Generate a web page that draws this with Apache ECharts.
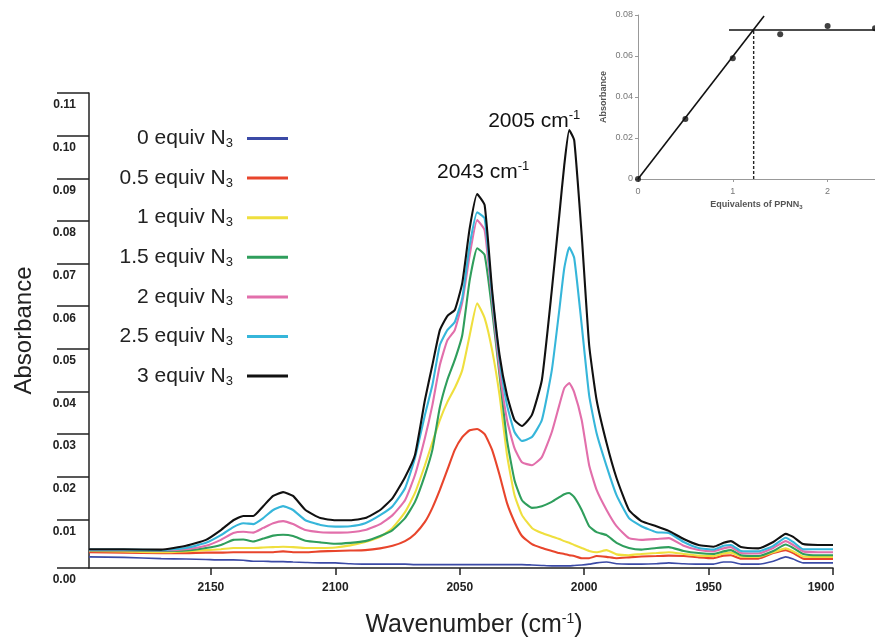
<!DOCTYPE html>
<html><head><meta charset="utf-8">
<script src="https://cdn.jsdelivr.net/npm/echarts@6/dist/echarts.min.js"></script>
<style>html,body{margin:0;padding:0;background:#fff}#c{width:875px;height:637px}</style>
</head><body><div id="c"></div>
<script>
// ---- main spectra data ----
const wavenumbers = [2199,2185,2170,2160,2152,2146,2141,2137,2133,2129,2125,2121,2117,2112,2106,2100,2094,2088,2082,2077,2072,2068,2064,2061,2058,2055,2052,2049,2046,2043,2040,2037,2034,2031,2028,2025,2021,2017,2013,2010,2008,2006,2004,2001,1998,1995,1991,1987,1982,1977,1971,1966,1960,1954,1948,1944,1941,1937,1930,1924,1919,1916,1912,1906,1900];
const abs0 = [0.0012,0.0011,0.0008,0.0007,0.0006,0.0005,0.0005,0.0004,0.0002,0.0002,0.0001,0.0001,0,-0.0001,-0.0002,-0.0002,-0.0004,-0.0005,-0.0005,-0.0005,-0.0005,-0.0006,-0.0006,-0.0006,-0.0006,-0.0006,-0.0006,-0.0006,-0.0006,-0.0006,-0.0006,-0.0006,-0.0006,-0.0006,-0.0006,-0.0006,-0.0007,-0.0008,-0.0009,-0.0009,-0.0009,-0.0009,-0.0008,-0.0007,-0.0005,-0.0002,0,-0.0004,-0.0005,-0.0005,-0.0004,-0.0002,-0.0004,-0.0005,-0.0005,0,0,-0.0005,-0.0005,0.0002,0.0012,0.0007,-0.0002,-0.0002,-0.0002];
const abs05 = [0.0023,0.0022,0.0021,0.0021,0.0022,0.0022,0.0023,0.0023,0.0023,0.0023,0.0023,0.0025,0.0023,0.0023,0.0025,0.0026,0.0027,0.0028,0.0032,0.0038,0.0049,0.0066,0.0094,0.0127,0.0169,0.0216,0.0263,0.0293,0.0309,0.0312,0.0300,0.0263,0.0204,0.0138,0.0094,0.0061,0.0042,0.0033,0.0026,0.0021,0.0019,0.0016,0.0014,0.0009,0.0009,0.0014,0.0012,0.0009,0.0011,0.0013,0.0014,0.0015,0.0014,0.0011,0.0009,0.0015,0.0016,0.0008,0.0008,0.0021,0.0028,0.0021,0.0008,0.0007,0.0007];
const abs1 = [0.0026,0.0025,0.0023,0.0025,0.0028,0.0030,0.0033,0.0033,0.0033,0.0034,0.0035,0.0036,0.0035,0.0033,0.0033,0.0034,0.0039,0.0047,0.0059,0.0080,0.0117,0.0162,0.0227,0.0281,0.0333,0.0375,0.0408,0.0450,0.0532,0.0607,0.0572,0.0497,0.0391,0.0251,0.0157,0.0110,0.0080,0.0068,0.0060,0.0054,0.0049,0.0045,0.0040,0.0033,0.0026,0.0023,0.0028,0.0018,0.0016,0.0019,0.0021,0.0023,0.0019,0.0015,0.0014,0.0020,0.0022,0.0013,0.0012,0.0023,0.0032,0.0025,0.0013,0.0012,0.0012];
const abs15 = [0.0027,0.0027,0.0026,0.0027,0.0033,0.0040,0.0052,0.0053,0.0048,0.0055,0.0062,0.0064,0.0061,0.0050,0.0046,0.0043,0.0045,0.0049,0.0061,0.0075,0.0103,0.0141,0.0204,0.0263,0.0363,0.0427,0.0474,0.0532,0.0661,0.0736,0.0720,0.0591,0.0438,0.0286,0.0192,0.0145,0.0127,0.0131,0.0141,0.0152,0.0159,0.0162,0.0152,0.0122,0.0084,0.0070,0.0063,0.0045,0.0033,0.0029,0.0033,0.0035,0.0026,0.0021,0.0019,0.0025,0.0028,0.0016,0.0014,0.0026,0.0041,0.0033,0.0019,0.0016,0.0016];
const abs2 = [0.0028,0.0028,0.0027,0.0030,0.0038,0.0052,0.0068,0.0071,0.0069,0.0080,0.0091,0.0096,0.0089,0.0075,0.0070,0.0069,0.0070,0.0075,0.0089,0.0110,0.0145,0.0204,0.0291,0.0368,0.0462,0.0520,0.0544,0.0609,0.0720,0.0802,0.0778,0.0614,0.0450,0.0333,0.0267,0.0234,0.0227,0.0246,0.0305,0.0368,0.0408,0.0420,0.0398,0.0333,0.0227,0.0169,0.0122,0.0084,0.0056,0.0052,0.0054,0.0056,0.0038,0.0028,0.0025,0.0032,0.0035,0.0021,0.0020,0.0033,0.0049,0.0040,0.0025,0.0023,0.0023];
const abs25 = [0.0029,0.0029,0.0028,0.0033,0.0045,0.0063,0.0082,0.0091,0.0089,0.0103,0.0122,0.0131,0.0122,0.0098,0.0087,0.0083,0.0084,0.0091,0.0110,0.0131,0.0173,0.0244,0.0345,0.0415,0.0509,0.0544,0.0563,0.0619,0.0743,0.0820,0.0806,0.0626,0.0474,0.0368,0.0305,0.0284,0.0293,0.0333,0.0450,0.0591,0.0689,0.0738,0.0713,0.0556,0.0391,0.0302,0.0225,0.0157,0.0103,0.0084,0.0070,0.0068,0.0047,0.0033,0.0029,0.0038,0.0040,0.0026,0.0025,0.0038,0.0057,0.0047,0.0030,0.0030,0.0030];
const abs3 = [0.0030,0.0030,0.0029,0.0038,0.0052,0.0075,0.0098,0.0108,0.0108,0.0131,0.0155,0.0164,0.0155,0.0122,0.0103,0.0098,0.0098,0.0103,0.0122,0.0150,0.0199,0.0251,0.0380,0.0462,0.0544,0.0577,0.0591,0.0654,0.0783,0.0863,0.0837,0.0638,0.0485,0.0391,0.0333,0.0319,0.0345,0.0427,0.0638,0.0813,0.0931,0.1013,0.0989,0.0767,0.0509,0.0380,0.0279,0.0197,0.0122,0.0096,0.0084,0.0073,0.0054,0.0040,0.0036,0.0045,0.0049,0.0035,0.0032,0.0047,0.0066,0.0059,0.0042,0.0040,0.0040];
const equivLabels = ['0','0.5','1','1.5','2','2.5','3'];
const seriesColors = ['#3b4aa6','#e8452c','#efdf3e','#2f9e5c','#e26fab','#36b6da','#111111'];
const xTickValues = [1900,1950,2000,2050,2100,2150];
const yTickLabels = ['0.00','0.01','0.02','0.03','0.04','0.05','0.06','0.07','0.08','0.09','0.10','0.11'];
const yAxisMin = -0.0014, yAxisMax = 0.11;
const peakLabels = ['2043','2005'];
const peakWavenumbers = [2043, 2006];

// ---- inset data ----
const insetEquiv = [0, 0.5, 1, 1.5, 2, 2.5];
const insetAbs = [0, 0.0293, 0.0589, 0.0706, 0.0746, 0.0735];
const fitLineEquiv = [0, 1.33];
const fitLineAbs = [0, 0.0795];
const plateauEquiv = [0.96, 2.5];
const plateauAbs = 0.0727;
const endPointEquiv = 1.22;
const insetYTicks = ['0','0.02','0.04','0.06','0.08'];

const FF = "'Liberation Sans', Arial, sans-serif";
const dataSets = [abs0, abs05, abs1, abs15, abs2, abs25, abs3];
const seriesNames = equivLabels.map(e => e + ' equiv N3');
const yTickValues = yTickLabels.map((t, i) => i === 0 ? yAxisMin : parseFloat(t));

const mainSeries = dataSets.map((arr, i) => {
  const s = {
    type: 'line', name: seriesNames[i], xAxisIndex: 0, yAxisIndex: 0,
    data: wavenumbers.map((w, j) => [w, arr[j]]),
    symbol: 'none', smooth: 0.15,
    lineStyle: { color: seriesColors[i], width: i === 0 ? 1.6 : 2.1 },
    itemStyle: { color: seriesColors[i] },
    z: 2 + i
  };
  if (i === 6) {
    s.markPoint = {
      symbol: 'circle', symbolSize: 1, itemStyle: { color: 'rgba(0,0,0,0)' },
      label: {
        show: true, position: 'inside',
        rich: {
          a: { fontSize: 21, color: '#111', fontFamily: FF },
          s: { fontSize: 13, color: '#111', fontFamily: FF, padding: [0, 0, 11, 0] }
        }
      },
      data: peakWavenumbers.map((w, k) => ({
        coord: [w, arr[wavenumbers.indexOf(w)]],
        label: { formatter: '{a|' + peakLabels[k] + ' cm}{s|-1}', offset: k === 0 ? [6, -22] : [-35, -9] }
      }))
    };
  }
  return s;
});

const chart = echarts.init(document.getElementById('c'), null, { renderer: 'canvas' });
chart.setOption({
  animation: false,
  backgroundColor: '#fff',
  textStyle: { fontFamily: FF },
  grid: [
    { left: 89, right: 42, top: 93, bottom: 69, containLabel: false, outerBoundsMode: 'none' },
    { left: 638, right: 0, top: 15, bottom: 458, containLabel: false, outerBoundsMode: 'none' }
  ],
  legend: {
    orient: 'vertical', align: 'right', right: 587, top: 127, padding: 0,
    itemGap: 16.6, itemWidth: 41, itemHeight: 3, icon: 'rect',
    data: seriesNames,
    formatter: name => '{t|' + name.slice(0, -1) + '}{s|3}',
    textStyle: {
      color: '#222', fontSize: 21, fontFamily: FF, padding: [0, 9, 0, 0],
      rich: {
        t: { fontSize: 21, lineHeight: 24, color: '#222', fontFamily: FF },
        s: { fontSize: 13, lineHeight: 13, color: '#222', fontFamily: FF, padding: [10, 0, 0, 0] }
      }
    }
  },
  xAxis: [
    {
      type: 'value', gridIndex: 0, inverse: true, min: 1900, max: 2199,
      axisLine: { onZero: false, lineStyle: { color: '#222', width: 1.5 } },
      axisTick: { length: 7, customValues: xTickValues, lineStyle: { color: '#222', width: 1.5 } },
      axisLabel: {
        customValues: xTickValues, margin: 14, fontWeight: 'bold', fontSize: 12, color: '#222', fontFamily: FF,
        formatter: v => v === 1900 ? '{r|1900}' : String(v),
        rich: { r: { fontWeight: 'bold', fontSize: 12, color: '#222', fontFamily: FF, padding: [0, 24, 0, 0] } }
      },
      splitLine: { show: false },
      name: '{a|Wavenumber (cm}{s|-1}{a|)}', nameLocation: 'middle', nameGap: 44,
      nameTextStyle: {
        padding: [0, 0, 0, 26],
        rich: {
          a: { fontSize: 25, color: '#222', fontFamily: FF },
          s: { fontSize: 14, color: '#222', fontFamily: FF, padding: [0, 0, 12, 0] }
        }
      }
    },
    {
      type: 'value', gridIndex: 1, min: 0, max: 2.5,
      axisLine: { onZero: false, lineStyle: { color: '#999', width: 1 } },
      axisTick: { length: 3, customValues: [0, 1, 2], lineStyle: { color: '#999' } },
      axisLabel: { customValues: [0, 1, 2], margin: 8, fontSize: 9, color: '#777', fontFamily: FF },
      splitLine: { show: false },
      name: '{a|Equivalents of PPNN}{s|3}', nameLocation: 'middle', nameGap: 21,
      nameTextStyle: {
        rich: {
          a: { fontSize: 9, fontWeight: 'bold', color: '#555', fontFamily: FF },
          s: { fontSize: 6, fontWeight: 'bold', color: '#555', fontFamily: FF, padding: [4, 0, 0, 0] }
        }
      }
    }
  ],
  yAxis: [
    {
      type: 'value', gridIndex: 0, min: yAxisMin, max: yAxisMax,
      axisLine: { show: true, lineStyle: { color: '#222', width: 1.5 } },
      axisTick: { show: true, length: 32, customValues: yTickValues, lineStyle: { color: '#222', width: 1.5 } },
      axisLabel: {
        customValues: yTickValues, margin: 13, fontWeight: 'bold', fontSize: 12, color: '#222', fontFamily: FF,
        verticalAlign: 'top', padding: [6, 0, 0, 0],
        formatter: v => yTickLabels[yTickValues.indexOf(v)] !== undefined ? yTickLabels[yTickValues.indexOf(v)] : (v < 0.0005 ? '0.00' : v.toFixed(2))
      },
      splitLine: { show: false },
      name: 'Absorbance', nameLocation: 'middle', nameGap: 53,
      nameTextStyle: { fontSize: 24, color: '#222', fontFamily: FF }
    },
    {
      type: 'value', gridIndex: 1, min: 0, max: 0.08, interval: 0.02,
      axisLine: { show: true, lineStyle: { color: '#999', width: 1 } },
      axisTick: { show: true, length: 3, lineStyle: { color: '#999' } },
      axisLabel: { margin: 5, fontSize: 9, color: '#777', fontFamily: FF,
        formatter: v => insetYTicks[Math.round(v / 0.02)] },
      splitLine: { show: false },
      name: 'Absorbance', nameLocation: 'middle', nameGap: 30,
      nameTextStyle: { fontSize: 9, fontWeight: 'bold', color: '#555', fontFamily: FF }
    }
  ],
  series: mainSeries.concat([
    {
      type: 'line', xAxisIndex: 1, yAxisIndex: 1, symbol: 'none', silent: true,
      data: fitLineEquiv.map((e, i) => [e, fitLineAbs[i]]),
      lineStyle: { color: '#111', width: 1.6 }
    },
    {
      type: 'line', xAxisIndex: 1, yAxisIndex: 1, symbol: 'none', silent: true,
      data: plateauEquiv.map(e => [e, plateauAbs]),
      lineStyle: { color: '#111', width: 1.6 }
    },
    {
      type: 'line', xAxisIndex: 1, yAxisIndex: 1, symbol: 'none', silent: true,
      data: [[endPointEquiv, 0], [endPointEquiv, plateauAbs]],
      lineStyle: { color: '#222', width: 1.4, type: [3, 2] }
    },
    {
      type: 'scatter', xAxisIndex: 1, yAxisIndex: 1, symbol: 'circle', symbolSize: 6,
      data: insetEquiv.map((e, i) => [e, insetAbs[i]]),
      itemStyle: { color: '#111' }, clip: false, z: 10
    }
  ])
});
</script>
</body></html>
